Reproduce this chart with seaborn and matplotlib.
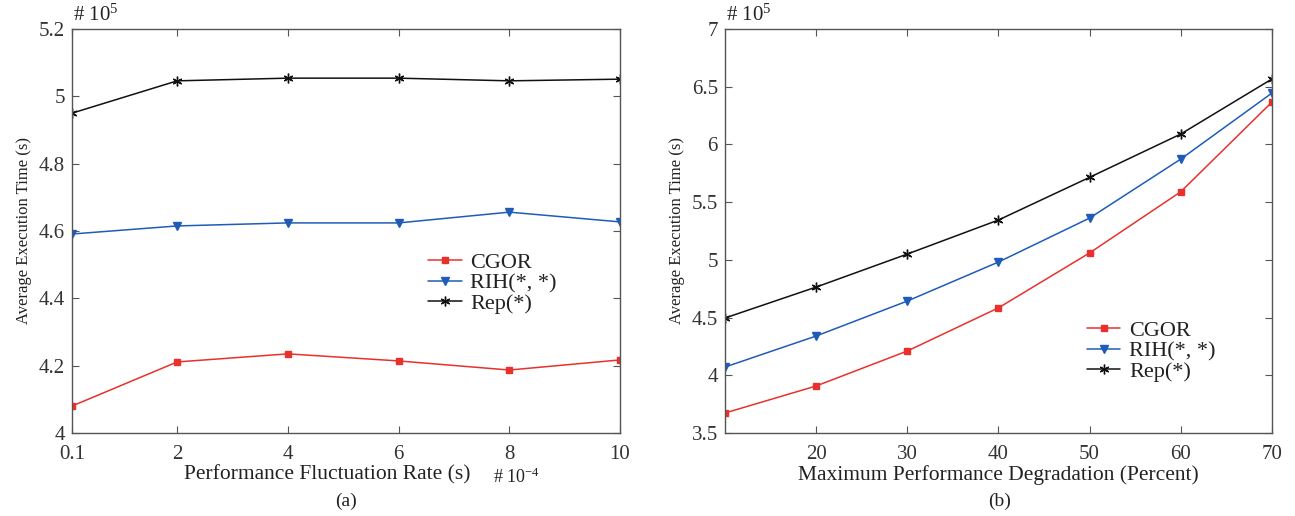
import numpy as np
import pandas as pd
import matplotlib
matplotlib.use("Agg")
import matplotlib.pyplot as plt
import seaborn as sns
from matplotlib.ticker import FuncFormatter

# ---- data (values in units of 1e5 s) ----
series_names = ["CGOR", "RIH(*, *)", "Rep(*)"]

rate_x = [0.1, 2, 4, 6, 8, 10]
rate_cgor = [4.08, 4.211, 4.235, 4.214, 4.187, 4.217]
rate_rih = [4.591, 4.615, 4.624, 4.624, 4.656, 4.627]
rate_rep = [4.95, 5.046, 5.054, 5.054, 5.046, 5.051]

deg_x = [10, 20, 30, 40, 50, 60, 70]
deg_cgor = [3.673, 3.907, 4.21, 4.584, 5.06, 5.59, 6.367]
deg_rih = [4.071, 4.34, 4.643, 4.981, 5.362, 5.873, 6.445]
deg_rep = [4.496, 4.764, 5.05, 5.345, 5.715, 6.09, 6.567]

left_xticks = [0.1, 2, 4, 6, 8, 10]
left_yticks = [4, 4.2, 4.4, 4.6, 4.8, 5, 5.2]
right_xticks = [20, 30, 40, 50, 60, 70]
right_yticks = [3.5, 4, 4.5, 5, 5.5, 6, 6.5, 7]

colors = {"CGOR": "#e8312c", "RIH(*, *)": "#1f5cb8", "Rep(*)": "#111111"}
asterisk = (6, 2, 0)
markers = {"CGOR": "s", "RIH(*, *)": "v", "Rep(*)": asterisk}
msizes = {"CGOR": 5, "RIH(*, *)": 6, "Rep(*)": 7}

sns.set_style("ticks")
plt.rcParams["font.family"] = ["Liberation Serif", "DejaVu Serif"]
plt.rcParams["mathtext.fontset"] = "custom"
plt.rcParams["mathtext.rm"] = "Liberation Serif"
plt.rcParams["mathtext.it"] = "Liberation Serif:italic"

TXT = "#222222"

fig = plt.figure(figsize=(12.95, 5.16), dpi=100)
ax1 = fig.add_axes([0.0556, 0.1609, 0.4232, 0.7829])
ax2 = fig.add_axes([0.5598, 0.1609, 0.4224, 0.7829])

fmt = FuncFormatter(lambda v, p: f"{v:g}")

panels = [
    (ax1, rate_x, [rate_cgor, rate_rih, rate_rep]),
    (ax2, deg_x, [deg_cgor, deg_rih, deg_rep]),
]

for ax, xs, ys in panels:
    for name, vals in zip(series_names, ys):
        sns.lineplot(x=xs, y=vals, ax=ax, color=colors[name],
                     marker=markers[name], markersize=msizes[name],
                     markeredgewidth=1.0, markeredgecolor=colors[name],
                     linewidth=1.1, label=name)
    for sp in ax.spines.values():
        sp.set_visible(True)
        sp.set_color("#555555")
        sp.set_linewidth(1.0)
    ax.tick_params(direction="in", top=True, right=True, length=5,
                   labelsize=15, colors="#555555", labelcolor="#333333")
    ax.tick_params(axis="x", pad=8.5)
    ax.tick_params(axis="y", pad=5)
    ax.set_ylabel("Average Execution Time (s)", fontsize=12, color=TXT, labelpad=5)
    ax.yaxis.set_major_formatter(fmt)
    ax.xaxis.set_major_formatter(fmt)
    ax.grid(False)

ax1.set_xlim(0.1, 10)
ax1.set_ylim(4, 5.2)
ax1.set_xticks(left_xticks)
ax1.set_yticks(left_yticks)
ax1.set_xlabel("Performance Fluctuation Rate (s)", fontsize=15.5, color=TXT, labelpad=1)
ax1.xaxis.label.set_x(0.466)

ax2.set_xlim(10, 70)
ax2.set_ylim(3.5, 7)
ax2.set_xticks(right_xticks)
ax2.set_yticks(right_yticks)
ax2.set_xlabel("Maximum Performance Degradation (Percent)", fontsize=15.5, color=TXT, labelpad=1)

for ax in (ax1, ax2):
    ax.text(0.002, 1.008, r"# $10^5$", transform=ax.transAxes, fontsize=15,
            ha="left", va="bottom", color=TXT)

ax1.text(0.768, -0.11, r"# $10^{-4}$", transform=ax1.transAxes, fontsize=13,
         ha="left", va="center", color=TXT)

fig.text(0.2672, 0.029, "(a)", ha="center", va="center", fontsize=14, color=TXT)
fig.text(0.772, 0.029, "(b)", ha="center", va="center", fontsize=14, color=TXT)

leg_kw = dict(frameon=False, fontsize=16, handlelength=1.5, handletextpad=0.4,
              labelspacing=0.0, borderaxespad=0, borderpad=0)
leg1 = ax1.legend(loc="upper left", bbox_to_anchor=(0.65, 0.447), **leg_kw)
leg2 = ax2.legend(loc="upper left", bbox_to_anchor=(0.662, 0.279), **leg_kw)
for leg in (leg1, leg2):
    for t in leg.get_texts():
        t.set_color(TXT)

fig.savefig("out.png", dpi=100)
